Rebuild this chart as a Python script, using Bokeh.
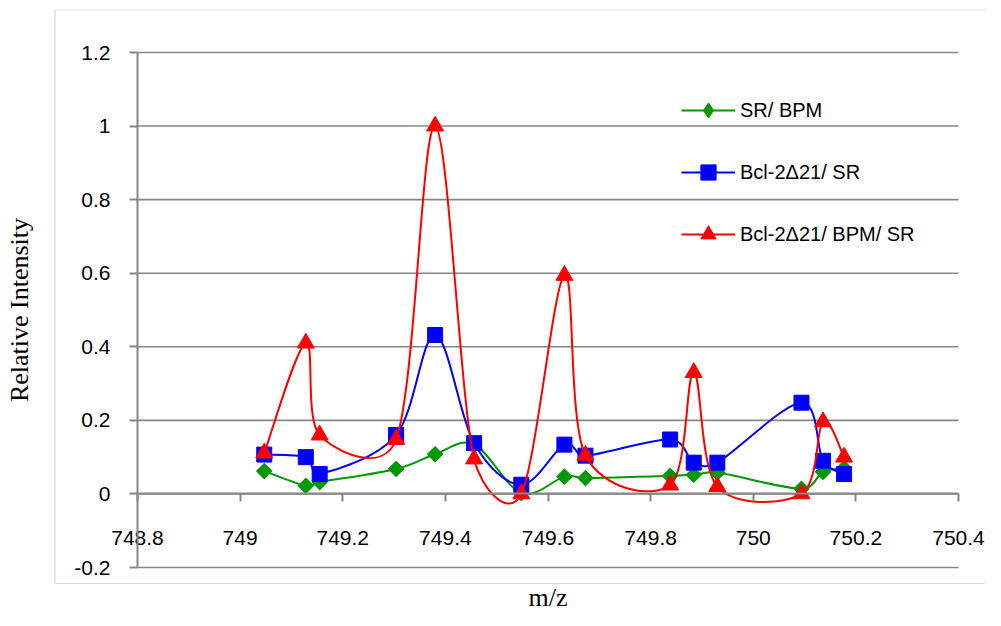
import math
from bokeh.plotting import figure
from bokeh.models import (Range1d, FixedTicker, Legend, LegendItem, BoxAnnotation,
                          LinearAxis)
from bokeh.embed import file_html
from bokeh.resources import INLINE

# ---------------- data ----------------
mz = [749.047, 749.128, 749.155, 749.304, 749.380, 749.456, 749.548, 749.632,
      749.673, 749.838, 749.884, 749.930, 750.094, 750.136, 750.177]
sr_bpm = [0.062, 0.022, 0.032, 0.068, 0.108, 0.135, 0.002, 0.047,
          0.043, 0.049, 0.052, 0.058, 0.014, 0.060, 0.070]
bcl_sr = [0.107, 0.100, 0.054, 0.160, 0.432, 0.138, 0.025, 0.134,
          0.104, 0.148, 0.085, 0.085, 0.248, 0.090, 0.054]
bcl_bpm_sr = [0.111, 0.410, 0.160, 0.148, 1.000, 0.095, 0.000, 0.594,
              0.105, 0.024, 0.330, 0.020, 0.000, 0.196, 0.100]
series_names = ["SR/ BPM", "Bcl-2\u039421/ SR", "Bcl-2\u039421/ BPM/ SR"]

x_ticks = [748.8, 749.0, 749.2, 749.4, 749.6, 749.8, 750.0, 750.2, 750.4]
x_tick_labels = ["748.8", "749", "749.2", "749.4", "749.6", "749.8", "750", "750.2", "750.4"]
y_ticks = [-0.2, 0.0, 0.2, 0.4, 0.6, 0.8, 1.0, 1.2]
y_tick_labels = ["-0.2", "0", "0.2", "0.4", "0.6", "0.8", "1", "1.2"]
x_title = "m/z"
y_title = "Relative Intensity"

# ---------------- layout (pixels on the canvas) ----------------
W, H = 985, 610
XMIN, XMAX, YMIN, YMAX = 748.8, 750.4, -0.2, 1.2
PX_L, PX_R = 137, 958      # canvas x of XMIN / XMAX
PY_T, PY_B = 52, 567       # canvas y of YMAX / YMIN
SX = (PX_R - PX_L) / (XMAX - XMIN)
SY = (PY_B - PY_T) / (YMAX - YMIN)


def cx(px):
    return XMIN + (px - PX_L) / SX


def cy(py):
    return YMIN + (PY_B - py) / SY


GRID = "#868686"
SANS = "Liberation Sans"
SERIF = "Liberation Serif"

p = figure(width=W, height=H, x_range=Range1d(cx(0), cx(W)), y_range=Range1d(cy(H), cy(0)),
           output_backend="svg", toolbar_location=None,
           x_axis_location=None, y_axis_location=None,
           min_border=0, min_border_left=0, min_border_right=0,
           min_border_top=0, min_border_bottom=0)
p.outline_line_color = None
p.background_fill_color = "white"
p.border_fill_color = "white"
p.grid.visible = False

# horizontal gridlines only across the data area
p.segment(x0=XMIN, x1=XMAX, y0=y_ticks, y1=y_ticks, line_color=GRID, line_width=1.6)


def style_axis(ax):
    ax.axis_line_color = GRID
    ax.axis_line_width = 2
    ax.major_tick_line_color = GRID
    ax.major_tick_line_width = 2
    ax.major_tick_in = 0
    ax.major_tick_out = 8
    ax.minor_tick_line_color = None
    ax.major_label_text_font = SANS
    ax.major_label_text_font_size = "21px"
    ax.major_label_text_color = "black"
    ax.axis_label_text_font = SERIF
    ax.axis_label_text_font_size = "26px"
    ax.axis_label_text_font_style = "normal"
    ax.axis_label_text_color = "black"


xaxis = LinearAxis(fixed_location=0, bounds=(XMIN, XMAX),
                   ticker=FixedTicker(ticks=x_ticks),
                   major_label_overrides=dict(zip(x_ticks, x_tick_labels)),
                   axis_label=x_title)
style_axis(xaxis)
xaxis.major_label_standoff = 29
xaxis.axis_label_standoff = 35
p.add_layout(xaxis, "below")

yaxis = LinearAxis(fixed_location=XMIN, bounds=(YMIN, YMAX),
                   ticker=FixedTicker(ticks=y_ticks),
                   major_label_overrides=dict(zip(y_ticks, y_tick_labels)),
                   axis_label=y_title)
style_axis(yaxis)
yaxis.major_label_standoff = 19
yaxis.axis_label_standoff = 37
p.add_layout(yaxis, "left")


def smooth_segments(xs, ys):
    """Excel-style smoothed line: cubic Bezier control points from neighbours."""
    pts = [(x * SX, y * SY) for x, y in zip(xs, ys)]
    n = len(pts)
    out = {k: [] for k in ("x0", "y0", "x1", "y1", "cx0", "cy0", "cx1", "cy1")}
    for i in range(n - 1):
        p0 = pts[i - 1] if i > 0 else pts[i]
        p1, p2 = pts[i], pts[i + 1]
        p3 = pts[i + 2] if i + 2 < n else pts[i + 1]
        d12 = math.hypot(p2[0] - p1[0], p2[1] - p1[1])
        t1 = [(p2[0] - p0[0]) / 6, (p2[1] - p0[1]) / 6]
        t2 = [(p3[0] - p1[0]) / 6, (p3[1] - p1[1]) / 6]
        for t in (t1, t2):
            L = math.hypot(t[0], t[1])
            if L > d12 / 2 and L > 0:
                t[0] *= d12 / 2 / L
                t[1] *= d12 / 2 / L
        out["x0"].append(xs[i]); out["y0"].append(ys[i])
        out["x1"].append(xs[i + 1]); out["y1"].append(ys[i + 1])
        out["cx0"].append((p1[0] + t1[0]) / SX); out["cy0"].append((p1[1] + t1[1]) / SY)
        out["cx1"].append((p2[0] - t2[0]) / SX); out["cy1"].append((p2[1] - t2[1]) / SY)
    return out


styles = [
    (sr_bpm, "#009900", dict(marker="square", size=11, angle=math.pi / 4), "diamond"),
    (bcl_sr, "#0000FF", dict(marker="square", size=15), None),
    (bcl_bpm_sr, "#FF0000", dict(marker="triangle", size=17), None),
]

items = []
for (vals, col, mk, leg_marker), name in zip(styles, series_names):
    seg = smooth_segments(mz, vals)
    p.bezier(line_color=col, line_width=2, **seg)
    dummy = p.line([float("nan")], [float("nan")], line_color=col, line_width=2)
    sr = p.scatter(mz, vals, fill_color=col, line_color=col, line_width=1, **mk)
    if leg_marker is not None:
        sr_leg = p.scatter([float("nan")], [float("nan")], marker=leg_marker,
                           fill_color=col, line_color=col)
    else:
        sr_leg = sr
    items.append(LegendItem(label=name, renderers=[dummy, sr_leg]))

# legend: screen position relative to the frame's bottom-left corner (= canvas)
legend = Legend(items=items, location=(681, H - 253), orientation="vertical",
                glyph_width=54, glyph_height=38, label_height=20, spacing=24,
                label_standoff=5, padding=0, margin=0,
                label_text_font=SANS, label_text_font_size="20px",
                label_text_color="black",
                border_line_alpha=0, background_fill_alpha=0)
p.add_layout(legend, "center")

# chart-area border (its right side lies beyond the page)
box = BoxAnnotation(left=cx(54.5), right=cx(W + 40), top=cy(9.5), bottom=cy(583),
                    fill_alpha=0, line_color=GRID, line_width=1.2, level="underlay")
p.add_layout(box)

open("out.html", "w").write(file_html(p, INLINE))
